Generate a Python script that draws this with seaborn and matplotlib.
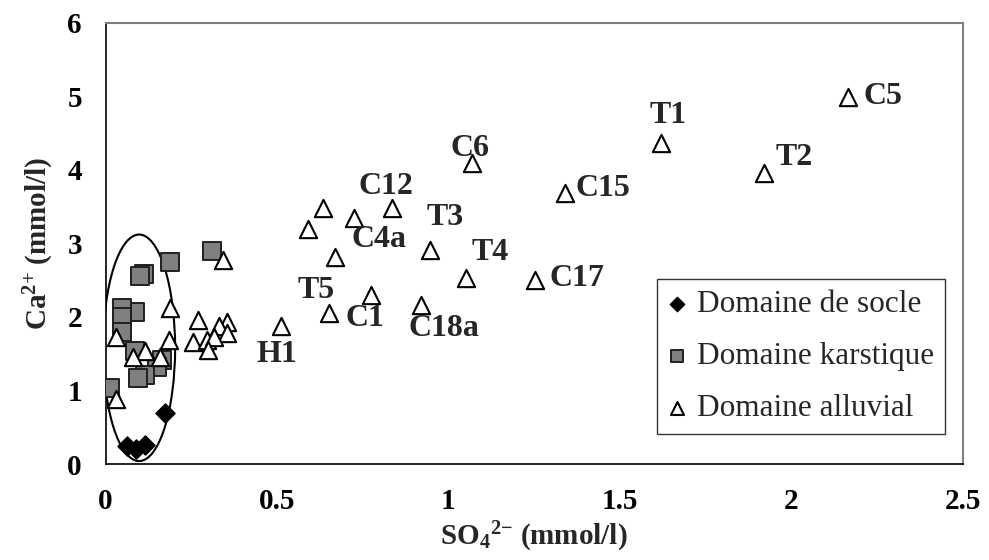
import matplotlib
matplotlib.use("Agg")
import matplotlib.pyplot as plt
from matplotlib.patches import Ellipse
import seaborn as sns
import pandas as pd

# ---------------- data ----------------
socle_so4 = [0.062, 0.089, 0.115, 0.173]
socle_ca = [0.24, 0.20, 0.26, 0.69]

karst_so4 = [0.311, 0.188, 0.111, 0.101, 0.086, 0.049, 0.047, 0.047, 0.086,
             0.164, 0.149, 0.115, 0.096, 0.013]
karst_ca = [2.90, 2.74, 2.59, 2.55, 2.07, 2.12, 2.00, 1.80, 1.53,
            1.41, 1.32, 1.21, 1.17, 1.03]

alluv_so4 = [0.343, 0.188, 0.269, 0.353, 0.330, 0.353, 0.256, 0.295, 0.317,
             0.300, 0.031, 0.186, 0.115, 0.079, 0.159, 0.031,
             0.633, 0.590, 0.724]
alluv_ca = [2.78, 2.12, 1.96, 1.93, 1.87, 1.78, 1.66, 1.69, 1.72,
            1.55, 1.73, 1.68, 1.54, 1.45, 1.45, 0.89,
            3.48, 3.20, 3.34]

lab_names = ["C5", "T1", "T2", "C15", "C6", "C17", "T4", "C18a", "T3",
             "C12", "C4a", "C1", "T5", "H1"]
lab_so4 = [2.166, 1.620, 1.920, 1.339, 1.069, 1.252, 1.050, 0.921, 0.946,
           0.836, 0.669, 0.773, 0.652, 0.511]
lab_ca = [4.99, 4.36, 3.95, 3.68, 4.09, 2.50, 2.53, 2.16, 2.91,
          3.48, 2.82, 2.30, 2.05, 1.88]

x_ticks = [0, 0.5, 1, 1.5, 2, 2.5]
x_ticklabels = ["0", "0.5", "1", "1.5", "2", "2.5"]
y_ticks = [0, 1, 2, 3, 4, 5, 6]
y_ticklabels = ["0", "1", "2", "3", "4", "5", "6"]

legend_labels = ["Domaine de socle", "Domaine karstique", "Domaine alluvial"]

# label offsets in pixels (dx, dy; dy upward)
lab_offsets = [(35, 0), (7, 28), (30, 16), (38, 5), (-2, 15), (42, 2),
               (25, 25), (23, -23), (15, 32), (-6, 22), (44, 17), (-6, -24),
               (-13, 23), (-4, -29)]

# ---------------- style ----------------
sns.set_style("white")
plt.rcParams["font.family"] = ["Liberation Serif", "DejaVu Serif"]
plt.rcParams["mathtext.fontset"] = "custom"
plt.rcParams["mathtext.rm"] = "Liberation Serif:bold"
plt.rcParams["mathtext.bf"] = "Liberation Serif:bold"
plt.rcParams["mathtext.it"] = "Liberation Serif:bold"

fig = plt.figure(figsize=(9.89, 5.60), dpi=100)
ax = fig.add_axes([0.1067, 0.1714, 0.8667, 0.7881])

df_s = pd.DataFrame({"x": socle_so4, "y": socle_ca})
df_k = pd.DataFrame({"x": karst_so4, "y": karst_ca})
df_a = pd.DataFrame({"x": alluv_so4 + lab_so4, "y": alluv_ca + lab_ca})

sns.scatterplot(data=df_s, x="x", y="y", ax=ax, marker="D", s=95,
                color="black", edgecolor="black", linewidth=1,
                label=legend_labels[0], zorder=3)
sns.scatterplot(data=df_k, x="x", y="y", ax=ax, marker="s", s=155,
                color="#808080", edgecolor="#202020", linewidth=1.4,
                label=legend_labels[1], zorder=3)
sns.scatterplot(data=df_a, x="x", y="y", ax=ax, marker="^", s=155,
                color="white", edgecolor="black", linewidth=1.5,
                label=legend_labels[2], zorder=4)

for name, xv, yv, (dx, dy) in zip(lab_names, lab_so4, lab_ca, lab_offsets):
    ax.annotate(name, xy=(xv, yv), xytext=(dx, dy), textcoords="offset pixels",
                ha="center", va="center", fontsize=23, fontweight="bold",
                zorder=5)

# ellipse around the low-sulphate cluster
ell = Ellipse((0.098, 1.58), width=0.21, height=3.08, fill=False,
              edgecolor="black", linewidth=1.5, zorder=2)
ax.add_patch(ell)

ax.set_xlim(0, 2.5)
ax.set_ylim(0, 6)
ax.set_xticks(x_ticks)
ax.set_xticklabels(x_ticklabels)
ax.set_yticks(y_ticks)
ax.set_yticklabels(y_ticklabels)
ax.tick_params(axis="both", direction="out", length=7, width=1,
               colors="black", labelsize=21, pad=10)
for lbl in ax.get_xticklabels() + ax.get_yticklabels():
    lbl.set_fontweight("bold")

ax.set_xlabel(r"SO$_4$$^{2{-}}$ (mmol/l)", fontsize=21, fontweight="bold",
              labelpad=4)
ax.set_ylabel(r"Ca$^{2{+}}$ (mmol/l)", fontsize=21, fontweight="bold",
              labelpad=8)

for side in ["left", "bottom"]:
    ax.spines[side].set_color("black")
    ax.spines[side].set_linewidth(1.2)
for side in ["top", "right"]:
    ax.spines[side].set_color("#808080")
    ax.spines[side].set_linewidth(1.5)
ax.grid(False)

leg = ax.legend(loc="upper left", bbox_to_anchor=(0.643, 0.419),
                borderaxespad=0, frameon=True, fancybox=False, shadow=False,
                fontsize=22.5, markerscale=0.75, handlelength=0.6,
                handletextpad=0.35, labelspacing=0.74, borderpad=0.35)
leg.get_frame().set_edgecolor("black")
leg.get_frame().set_linewidth(1.0)

fig.savefig("out.png", dpi=100)
